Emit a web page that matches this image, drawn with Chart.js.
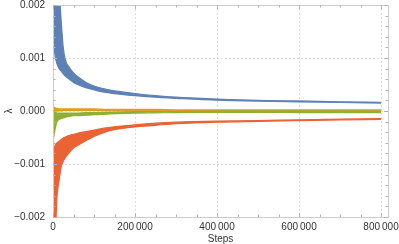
<!DOCTYPE html>
<html><head><meta charset="utf-8">
<script src="https://cdn.jsdelivr.net/npm/chart.js@4/dist/chart.umd.min.js"></script>
<style>html,body{margin:0;padding:0;background:#fff}#wrap{width:399px;height:244px}</style>
</head><body><div id="wrap"><canvas id="c" width="399" height="244"></canvas></div>
<script>
const steps = [0, 1500, 2500, 5000, 7500, 10000, 15000, 20000, 25000, 30000, 40000, 50000, 60000, 80000, 100000, 130000, 160000, 200000, 250000, 300000, 400000, 500000, 600000, 700000, 800000];
const blueUpper = [0.004, 0.004, 0.004, 0.0035, 0.003, 0.0026, 0.0023, 0.0017, 0.0012, 0.00097, 0.00082, 0.00072, 0.00065, 0.00054, 0.00047, 0.00041, 0.00037, 0.00033, 0.00029, 0.00026, 0.000225, 0.0002, 0.00019, 0.000175, 0.000165];
const blueLower = [0.004, 0.0016, 0.0013, 0.00105, 0.00095, 0.00088, 0.0008, 0.00075, 0.0007, 0.00066, 0.0006, 0.00054, 0.0005, 0.00044, 0.0004, 0.00035, 0.00032, 0.00029, 0.00026, 0.00024, 0.000205, 0.000185, 0.000172, 0.00016, 0.00015];
const orangeUpper = [0.00007, 0.00008, 0.00007, 0.00006, 0.00005, 0.00005, 0.00004, 0.00004, 0.00004, 0.00004, 0.00004, 0.00004, 0.00004, 0.00004, 0.00004, 0.00003, 0.00003, 0.00003, 0.00003, 0.00002, 0.00002, 0.00002, 0.00002, 0.00002, 0.00002];
const orangeLower = [-0.00005, -0.00005, -0.00004, -0.00002, -0.00001, 0.0, 0.0, 0.0, 0.00001, 0.00001, 0.00001, 0.00001, 0.00001, 0.00001, 0.00001, 0.00001, 0.0, 0.0, 0.0, 0.0, -0.00001, -0.00001, -0.00001, -0.00001, -0.00001];
const greenUpper = [0.0, 0.0, 0.0, -0.00002, -0.00003, -0.00004, -0.00004, -0.00004, -0.00004, -0.00004, -0.00004, -0.00004, -0.00004, -0.00003, -0.00003, -0.00002, -0.00002, -0.00001, -0.00001, -0.00001, 0.0, 0.0, 0.0, 0.0, 0.0];
const greenLower = [-0.0005, -0.0005, -0.00045, -0.00035, -0.00026, -0.0002, -0.00016, -0.00014, -0.00013, -0.00012, -0.0001, -0.00009, -0.00009, -0.00008, -0.00007, -0.00006, -0.00005, -0.00004, -0.000035, -0.00003, -0.000025, -0.000025, -0.00003, -0.00003, -0.00003];
const redUpper = [0.003, -0.0007, -0.00069, -0.00066, -0.00062, -0.0006, -0.00057, -0.00054, -0.00051, -0.00049, -0.00046, -0.00044, -0.00042, -0.00039, -0.00036, -0.00032, -0.00029, -0.00026, -0.00023, -0.00021, -0.00019, -0.00018, -0.000165, -0.000155, -0.000145];
const redLower = [-0.003, -0.003, -0.003, -0.0024, -0.002, -0.0016, -0.0013, -0.00105, -0.00095, -0.00088, -0.00078, -0.0007, -0.00065, -0.00056, -0.00048, -0.00039, -0.00034, -0.0003, -0.00027, -0.00024, -0.00021, -0.000195, -0.000182, -0.00017, -0.00016];

const xTickValues = [0, 200000, 400000, 600000, 800000];
const yTickValues = [-0.002, -0.001, 0, 0.001, 0.002];
const xMajorStep = 200000, xMinorStep = 50000;
const yMajorStep = 0.001, yMinorStep = 0.0002;

const colors = {blue:'#5E81B5', orange:'#E19C24', green:'#8FB032', red:'#EB6235'};
const pts = arr => steps.map((s,i)=>({x:s, y:arr[i]}));
function band(lower, upper, color, order){
  const base = {borderColor:color, backgroundColor:color, borderWidth:1.2, pointRadius:0, cubicInterpolationMode:'monotone', order:order};
  return [
    Object.assign({label:'lo', data:pts(lower), fill:false}, base),
    Object.assign({label:'hi', data:pts(upper), fill:'-1'}, base)
  ];
}
const datasets = [
  ...band(blueLower, blueUpper, colors.blue, 4),
  ...band(orangeLower, orangeUpper, colors.orange, 3),
  ...band(greenLower, greenUpper, colors.green, 2),
  ...band(redLower, redUpper, colors.red, 1)
];

const frame = {
  id:'frame',
  beforeDatasetsDraw(chart){
    const {ctx, chartArea:a, scales:{x,y}} = chart;
    ctx.save();
    ctx.strokeStyle='#dcdcdc'; ctx.lineWidth=1; ctx.setLineDash([2,2]);
    x.ticks.forEach(t=>{ if (t.value<=x.min) return; const p=Math.round(x.getPixelForValue(t.value))+0.5; ctx.beginPath(); ctx.moveTo(p,a.top); ctx.lineTo(p,a.bottom); ctx.stroke(); });
    y.ticks.forEach(t=>{ if (t.value<=y.min || t.value>=y.max) return; const p=Math.round(y.getPixelForValue(t.value))+0.5; ctx.beginPath(); ctx.moveTo(a.left,p); ctx.lineTo(a.right,p); ctx.stroke(); });
    ctx.restore();
  },
  afterDatasetsDraw(chart){
    const {ctx, chartArea:a, scales:{x,y}} = chart;
    ctx.save();
    ctx.strokeStyle='#cccccc'; ctx.lineWidth=1;
    ctx.strokeRect(Math.round(a.left)+0.5, Math.round(a.top)+0.5, Math.round(a.right-a.left), Math.round(a.bottom-a.top));
    ctx.strokeStyle='#b4b4b4';
    for (let v=0; v<=x.max; v+=xMinorStep){
      const major = Math.abs(v/xMajorStep - Math.round(v/xMajorStep))<1e-9;
      const L = major?4:2.5; const p=Math.round(x.getPixelForValue(v))+0.5;
      ctx.beginPath(); ctx.moveTo(p,a.bottom); ctx.lineTo(p,a.bottom-L); ctx.moveTo(p,a.top); ctx.lineTo(p,a.top+L); ctx.stroke();
    }
    for (let k=Math.ceil(y.min/yMinorStep-1e-9); k*yMinorStep<=y.max+1e-12; k++){
      const v=k*yMinorStep;
      const major = Math.abs(v/yMajorStep - Math.round(v/yMajorStep))<1e-9;
      const L = major?4:2.5; const p=Math.round(y.getPixelForValue(v))+0.5;
      ctx.beginPath(); ctx.moveTo(a.left,p); ctx.lineTo(a.left+L,p); ctx.moveTo(a.right,p); ctx.lineTo(a.right-L,p); ctx.stroke();
    }
    ctx.restore();
  }
};

const fmtX = v => { if (v===0) return '0'; const s=String(Math.round(v)); return s.replace(/\B(?=(\d{3})+(?!\d))/g,'\u2009'); };
const fmtY = v => (v<0?'\u2212':'') + Math.abs(v).toFixed(3);
const font = {family:'Liberation Sans, Arial, sans-serif', size:10, lineHeight:1};

new Chart(document.getElementById('c'), {
  type:'line',
  data:{datasets},
  plugins:[frame],
  options:{
    responsive:false, animation:false, devicePixelRatio:1,
    layout:{padding:{top:5, right:11, left:0, bottom:0}},
    plugins:{legend:{display:false}, tooltip:{enabled:false}},
    elements:{line:{borderJoinStyle:'round'}},
    scales:{
      x:{type:'linear', min:0, max:817000,
        grid:{display:false, drawTicks:false, tickLength:0}, border:{display:false},
        afterBuildTicks(s){ s.ticks = xTickValues.map(v=>({value:v})); },
        ticks:{maxRotation:0, autoSkip:false, padding:5, color:'#333', font, callback:v=>fmtX(v)},
        title:{display:true, text:'Steps', color:'#333', padding:{top:0,bottom:0}, font},
        afterFit(s){ s.height = 27; s.paddingLeft = 0; s.paddingRight = 0; }
      },
      y:{type:'linear', min:-0.002, max:0.002,
        grid:{display:false, drawTicks:false, tickLength:0}, border:{display:false},
        afterBuildTicks(s){ s.ticks = yTickValues.map(v=>({value:v})); },
        ticks:{padding:8, color:'#333', font, callback:v=>fmtY(v)},
        title:{display:true, text:'λ', color:'#333', padding:{top:4,bottom:0}, font},
        afterFit(s){ s.width = 53; s.paddingTop = 0; s.paddingBottom = 0; }
      }
    }
  }
});
</script></body></html>
